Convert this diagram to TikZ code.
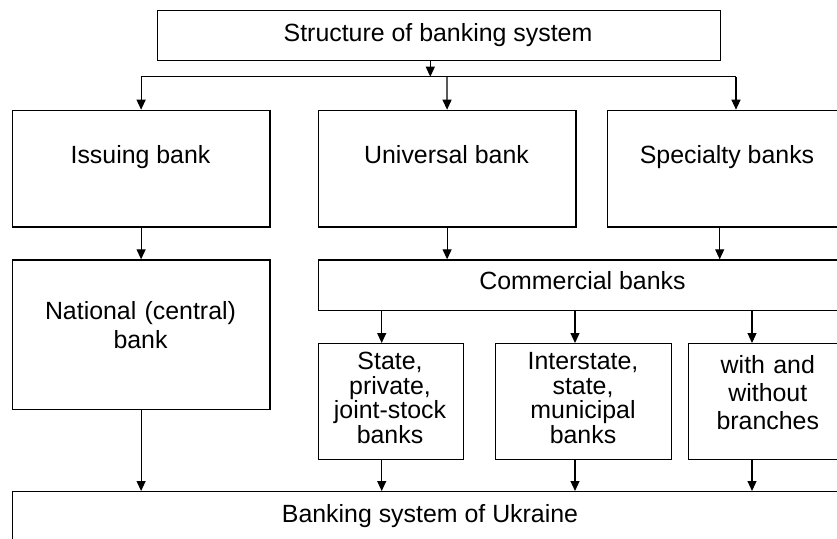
\documentclass[tikz,border=0pt]{standalone}
\usepackage{fontspec}
\setmainfont{Liberation Sans}
\usetikzlibrary{arrows.meta}
\begin{document}
\begin{tikzpicture}[x=1pt,y=-1pt,
  box/.style={draw, line width=1.2pt, inner sep=0pt, anchor=north west},
  txt/.style={inner sep=0pt, font=\fontsize{24.9}{28.3}\selectfont, anchor=base},
  ml/.style={txt, align=center, text width=#1},
  tight/.style={font=\fontsize{24.9}{24.7}\selectfont},
  arr/.style={line width=1.2pt, -{Triangle[length=10pt,width=9pt]}},
  ln/.style={line width=1.2pt}]
\useasboundingbox (0,0) rectangle (837,538);
\clip (0,0) rectangle (837,538);
% boxes
\node[box, minimum width=563pt, minimum height=50pt] (top) at (156.7,10) {};
\node[box, minimum width=257.6pt, minimum height=116.6pt] (iss) at (11.7,109.7) {};
\node[box, minimum width=257.6pt, minimum height=116.6pt] (uni) at (317.7,109.7) {};
\node[box, minimum width=240pt, minimum height=116.6pt] (spe) at (607,109.7) {};
\node[box, minimum width=257.6pt, minimum height=149.7pt] (nat) at (11.7,259.3) {};
\node[box, minimum width=529.5pt, minimum height=50.4pt] (com) at (317.7,259.3) {};
\node[box, minimum width=145.2pt, minimum height=116pt] (sta) at (317.5,343) {};
\node[box, minimum width=176.7pt, minimum height=116pt] (ist) at (494.5,343) {};
\node[box, minimum width=160.2pt, minimum height=116pt] (wit) at (687.7,343) {};
\node[box, minimum width=837.3pt, minimum height=80pt] (bot) at (11.7,491) {};
% texts
\node[txt] (ttop) at (438,41.7) {Structure of banking system};
\node[txt] (tiss) at (140.5,163) {Issuing bank};
\node[txt] (tuni) at (446.5,163) {Universal bank};
\node[txt] (tspe) at (727,163) {Specialty banks};
\node[ml=250pt] (tnat) at (140.5,319.7) {National (central)\\bank};
\node[txt] (tcom) at (582.5,289.5) {Commercial banks};
\node[ml=145pt, tight] (tsta) at (390,369.5) {State,\\private,\\joint-stock\\banks};
\node[ml=176pt, tight] (tist) at (583,369.5) {Interstate,\\state,\\municipal\\banks};
\node[ml=160pt] (twit) at (767.8,373) {with and\\without\\branches};
\node[txt] (tbot) at (430,522) {Banking system of Ukraine};
% connectors
\coordinate (split) at (430.3,76.7);
\draw[arr] (top.south -| split) -- (split);
\draw[ln] (split -| iss.north) -- (split -| 736,0);
\draw[arr] (split -| iss.north) -- (iss.north);
\draw[arr] ([xshift=-0.2pt]split -| uni.north) -- (uni.north);
\draw[arr] (split -| 736,0) -- (spe.north -| 736,0);
\draw[arr] (iss.south) -- (nat.north);
\draw[arr] (uni.south) -- (uni.south |- com.north);
\draw[arr] (spe.south -| 719.7,0) -- (com.north -| 719.7,0);
\draw[arr] (com.south -| 381.7,0) -- (sta.north -| 381.7,0);
\draw[arr] (com.south -| 575,0) -- (ist.north -| 575,0);
\draw[arr] (com.south -| 752,0) -- (wit.north -| 752,0);
\draw[arr] (nat.south) -- (nat.south |- bot.north);
\draw[arr] (sta.south -| 381.7,0) -- (bot.north -| 381.7,0);
\draw[arr] (ist.south -| 575,0) -- (bot.north -| 575,0);
\draw[arr] (wit.south -| 752,0) -- (bot.north -| 752,0);
\end{tikzpicture}
\end{document}
